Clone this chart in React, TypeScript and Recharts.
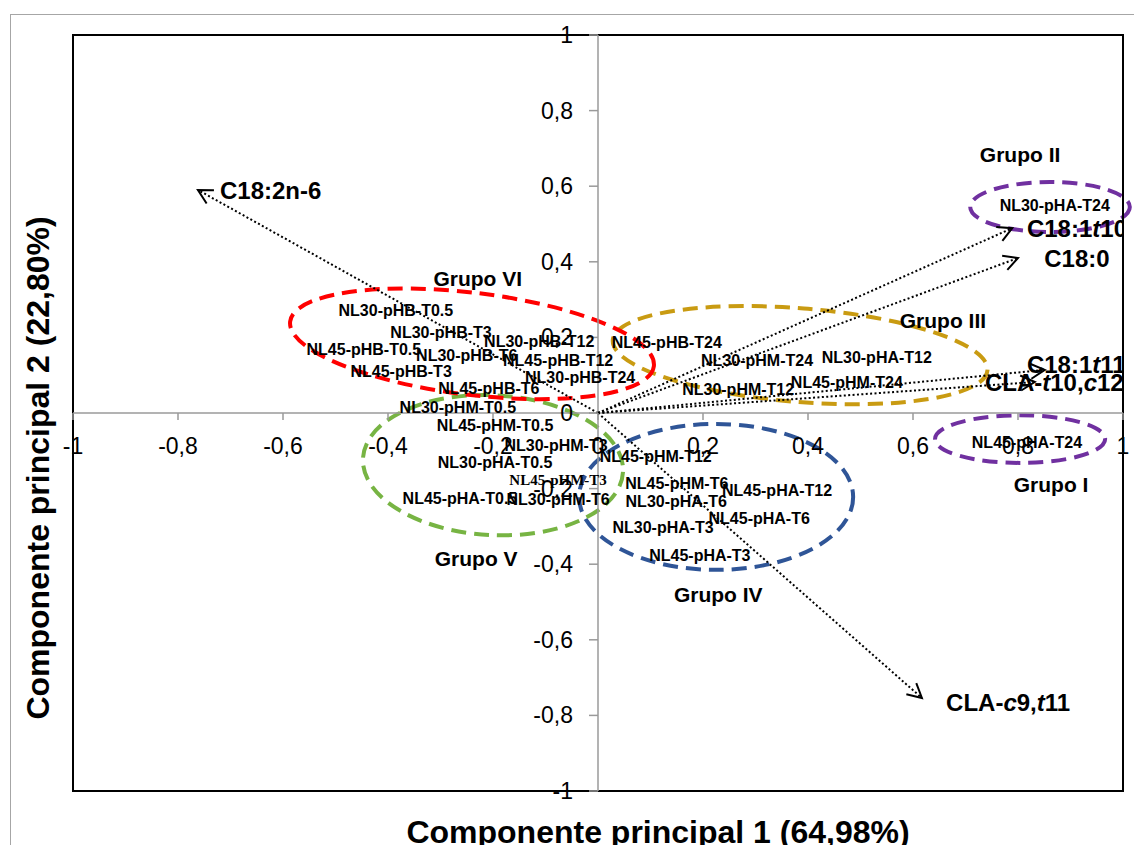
import React from 'react';
import { ScatterChart, Scatter, XAxis, YAxis, ReferenceLine, ReferenceArea, ReferenceDot } from 'recharts';

// ---- Sample scores (PC1, PC2) ----
const sampleNames = [
  'NL30-pHB-T0.5', 'NL30-pHB-T3', 'NL30-pHB-T12', 'NL45-pHB-T0.5', 'NL30-pHB-T6',
  'NL45-pHB-T12', 'NL45-pHB-T3', 'NL30-pHB-T24', 'NL45-pHB-T6', 'NL30-pHM-T0.5',
  'NL45-pHB-T24', 'NL30-pHM-T24', 'NL30-pHA-T12', 'NL30-pHM-T12', 'NL45-pHM-T24',
  'NL45-pHM-T0.5', 'NL30-pHM-T3', 'NL30-pHA-T0.5', 'NL45-pHM-T3', 'NL45-pHA-T0.5',
  'NL30-pHM-T6', 'NL45-pHM-T12', 'NL45-pHM-T6', 'NL30-pHA-T6', 'NL45-pHA-T12',
  'NL45-pHA-T6', 'NL30-pHA-T3', 'NL45-pHA-T3', 'NL30-pHA-T24', 'NL45-pHA-T24',
];
const samplePC1 = [
  -0.385, -0.299, -0.112, -0.446, -0.250,
  -0.076, -0.375, -0.034, -0.208, -0.267,
  0.131, 0.303, 0.531, 0.267, 0.474,
  -0.196, -0.080, -0.196, -0.076, -0.263,
  -0.076, 0.110, 0.150, 0.149, 0.341,
  0.307, 0.124, 0.194, 0.870, 0.817,
];
const samplePC2 = [
  0.272, 0.212, 0.190, 0.169, 0.153,
  0.140, 0.111, 0.093, 0.066, 0.016,
  0.188, 0.140, 0.146, 0.063, 0.082,
  -0.032, -0.085, -0.132, -0.177, -0.225,
  -0.228, -0.116, -0.185, -0.235, -0.206,
  -0.280, -0.302, -0.378, 0.548, -0.079,
];
const serifSample = 'NL45-pHM-T3';

// ---- Variable loadings ----
const loadingNames = ['C18:2n-6', 'C18:1t10', 'C18:0', 'C18:1t11', 'CLA-t10,c12', 'CLA-c9,t11'];
const loadingPC1 = [-0.762, 0.789, 0.800, 0.851, 0.832, 0.617];
const loadingPC2 = [0.590, 0.489, 0.410, 0.114, 0.082, -0.754];
const loadingLabelPC1 = [-0.720, 0.817, 0.850, 0.817, 0.737, 0.663];
const loadingLabelPC2 = [0.590, 0.489, 0.410, 0.130, 0.082, -0.765];

// ---- Groups (ellipses in PC units) ----
const groupNames = ['Grupo I', 'Grupo II', 'Grupo III', 'Grupo IV', 'Grupo V', 'Grupo VI'];
const groupCenterPC1 = [0.804, 0.861, 0.385, 0.225, -0.200, -0.240];
const groupCenterPC2 = [-0.069, 0.545, 0.153, -0.222, -0.138, 0.183];
const groupSpreadPC1 = [0.162, 0.152, 0.358, 0.261, 0.248, 0.349];
const groupSpreadPC2 = [0.063, 0.066, 0.124, 0.193, 0.185, 0.135];
const groupTilt = [0, 0, 4.6, 0, 3, 7];
const groupLabelPC1 = [0.863, 0.804, 0.657, 0.229, -0.232, -0.229];
const groupLabelPC2 = [-0.190, 0.683, 0.246, -0.479, -0.384, 0.357];

// ---- Axis ticks ----
const axisTicks = [-1, -0.8, -0.6, -0.4, -0.2, 0, 0.2, 0.4, 0.6, 0.8, 1];

const groupColors = ['#7030A0', '#7030A0', '#C99B12', '#2F5597', '#77B443', '#FF0000'];
const FONT = '"Liberation Sans", Arial, sans-serif';
const AXIS_GRAY = '#9a9a9a';

const fmt = (v: number) => Number(v.toFixed(1)).toString().replace('.', ',');

const samples = sampleNames.map((name, i) => ({ name, x: samplePC1[i], y: samplePC2[i] }));

const renderItalic = (name: string) => {
  const parts = name.split(/([tc])(?=\d)/);
  return parts.map((p, i) =>
    i % 2 === 1 ? (
      <tspan key={i} fontStyle="italic">{p}</tspan>
    ) : (
      <tspan key={i}>{p}</tspan>
    )
  );
};

const SampleLabel = (props: any) => {
  const { cx, cy, payload } = props;
  if (cx == null || cy == null) return null;
  const serif = payload.name === serifSample;
  return (
    <text
      x={cx}
      y={cy}
      dy="0.35em"
      textAnchor="middle"
      fontFamily={serif ? '"Liberation Serif", "Times New Roman", serif' : FONT}
      fontWeight="bold"
      fontSize={serif ? 15 : 16}
      fill="#000"
    >
      {payload.name}
    </text>
  );
};

const arrowShape = (props: any) => {
  const { x1, y1, x2, y2 } = props;
  if ([x1, y1, x2, y2].some((v) => v == null || isNaN(v))) return <g />;
  const ang = Math.atan2(y2 - y1, x2 - x1);
  const L = 16;
  const a = (28 * Math.PI) / 180;
  const p1 = [x2 - L * Math.cos(ang - a), y2 - L * Math.sin(ang - a)];
  const p2 = [x2 - L * Math.cos(ang + a), y2 - L * Math.sin(ang + a)];
  return (
    <g>
      <line x1={x1} y1={y1} x2={x2} y2={y2} stroke="#000" strokeWidth={2} strokeDasharray="2 2.4" />
      <polyline
        points={`${p1[0]},${p1[1]} ${x2},${y2} ${p2[0]},${p2[1]}`}
        fill="none"
        stroke="#000"
        strokeWidth={2}
      />
    </g>
  );
};

const ellipseShape = (color: string, tilt: number) => (props: any) => {
  const { x, y, width, height } = props;
  const cx = x + width / 2;
  const cy = y + height / 2;
  return (
    <ellipse
      cx={cx}
      cy={cy}
      rx={Math.abs(width) / 2}
      ry={Math.abs(height) / 2}
      transform={`rotate(${tilt} ${cx} ${cy})`}
      fill="none"
      stroke={color}
      strokeWidth={4}
      strokeDasharray="15 8"
    />
  );
};

const borderShape = (props: any) => {
  const { x, y, width, height } = props;
  return (
    <g>
      <defs>
        <clipPath id="plotClip">
          <rect x={x} y={y} width={width} height={height} />
        </clipPath>
      </defs>
      <rect x={x} y={y} width={width} height={height} fill="none" stroke="#000" strokeWidth={2} />
    </g>
  );
};

const xTickShape = (label: string) => (props: any) => {
  const { cx, cy } = props;
  return (
    <g>
      <line x1={cx} y1={cy} x2={cx} y2={cy + 7} stroke={AXIS_GRAY} strokeWidth={1.5} />
      <text x={cx} y={cy + 41} textAnchor="middle" fontFamily={FONT} fontSize={23} fill="#000">
        {label}
      </text>
    </g>
  );
};

const yTickShape = (label: string) => (props: any) => {
  const { cx, cy } = props;
  return (
    <g>
      <line x1={cx - 9} y1={cy} x2={cx} y2={cy} stroke={AXIS_GRAY} strokeWidth={1.5} />
      <text x={cx - 25} y={cy + 8} textAnchor="end" fontFamily={FONT} fontSize={23} fill="#000">
        {label}
      </text>
    </g>
  );
};

const loadingLabelShape = (name: string) => (props: any) => {
  const { cx, cy } = props;
  return (
    <text
      x={cx}
      y={cy}
      dy="0.36em"
      textAnchor="start"
      fontFamily={FONT}
      fontWeight="bold"
      fontSize={24}
      fill="#000"
      clipPath="url(#plotClip)"
    >
      {renderItalic(name)}
    </text>
  );
};

const groupLabelShape = (name: string) => (props: any) => {
  const { cx, cy } = props;
  return (
    <text x={cx} y={cy} dy="0.36em" textAnchor="middle" fontFamily={FONT} fontWeight="bold" fontSize={21} fill="#000">
      {name}
    </text>
  );
};

const xTitle = (props: any) => {
  const vb = props.viewBox || {};
  return (
    <text
      x={vb.x + vb.width / 2 + 60}
      y={vb.y + 52}
      textAnchor="middle"
      fontFamily={FONT}
      fontWeight="bold"
      fontSize={32}
      fill="#000"
    >
      Componente principal 1 (64,98%)
    </text>
  );
};

const yTitle = (props: any) => {
  const vb = props.viewBox || {};
  const cx = 37;
  const cy = vb.y + vb.height / 2 + 55;
  return (
    <text
      x={cx}
      y={cy}
      dy="0.36em"
      transform={`rotate(-90 ${cx} ${cy})`}
      textAnchor="middle"
      fontFamily={FONT}
      fontWeight="bold"
      fontSize={32}
      fill="#000"
    >
      Componente principal 2 (22,80%)
    </text>
  );
};

export default function App() {
  return (
    <div style={{ position: 'absolute', left: 0, top: 0, width: 1134, height: 845, overflow: 'hidden', background: '#fff' }}>
      <div
        style={{
          position: 'absolute',
          left: 10,
          top: 14,
          width: 1400,
          height: 1000,
          border: '1px solid #a6a6a6',
          boxSizing: 'border-box',
        }}
      />
      <div style={{ position: 'absolute', left: 0, top: 0 }}>
        <ScatterChart width={1134} height={845} margin={{ top: 35, right: 11, left: 0, bottom: 0 }}>
          <XAxis
            type="number"
            dataKey="x"
            domain={[-1, 1]}
            ticks={axisTicks}
            tick={false}
            tickLine={false}
            axisLine={false}
            height={54}
            allowDataOverflow
            label={{ value: 'Componente principal 1 (64,98%)', content: xTitle }}
          />
          <YAxis
            type="number"
            dataKey="y"
            domain={[-1, 1]}
            ticks={axisTicks}
            tick={false}
            tickLine={false}
            axisLine={false}
            width={73}
            allowDataOverflow
            label={{ value: 'Componente principal 2 (22,80%)', content: yTitle }}
          />
          <ReferenceLine x={0} stroke={AXIS_GRAY} strokeWidth={1.5} ifOverflow="visible" />
          <ReferenceLine y={0} stroke={AXIS_GRAY} strokeWidth={1.5} ifOverflow="visible" />
          {axisTicks.map((t) => (
            <ReferenceDot key={'xt' + t} x={t} y={0} ifOverflow="visible" shape={xTickShape(fmt(t))} />
          ))}
          {axisTicks.map((t) => (
            <ReferenceDot key={'yt' + t} x={0} y={t} ifOverflow="visible" shape={yTickShape(fmt(t))} />
          ))}
          <Scatter data={samples} isAnimationActive={false} shape={SampleLabel} />
          {groupNames.map((g, i) => (
            <ReferenceArea
              key={'ell' + g}
              x1={groupCenterPC1[i] - groupSpreadPC1[i]}
              x2={groupCenterPC1[i] + groupSpreadPC1[i]}
              y1={groupCenterPC2[i] - groupSpreadPC2[i]}
              y2={groupCenterPC2[i] + groupSpreadPC2[i]}
              ifOverflow="visible"
              shape={ellipseShape(groupColors[i], groupTilt[i])}
            />
          ))}
          {groupNames.map((g, i) => (
            <ReferenceDot
              key={'gl' + g}
              x={groupLabelPC1[i]}
              y={groupLabelPC2[i]}
              ifOverflow="visible"
              shape={groupLabelShape(g)}
            />
          ))}
          {loadingNames.map((n, i) => (
            <ReferenceLine
              key={'ld' + n}
              segment={[
                { x: 0, y: 0 },
                { x: loadingPC1[i], y: loadingPC2[i] },
              ]}
              ifOverflow="visible"
              shape={arrowShape}
            />
          ))}
          {loadingNames.map((n, i) => (
            <ReferenceDot
              key={'ll' + n}
              x={loadingLabelPC1[i]}
              y={loadingLabelPC2[i]}
              ifOverflow="visible"
              shape={loadingLabelShape(n)}
            />
          ))}
          <ReferenceArea x1={-1} x2={1} y1={-1} y2={1} ifOverflow="visible" shape={borderShape} />
        </ScatterChart>
      </div>
    </div>
  );
}
